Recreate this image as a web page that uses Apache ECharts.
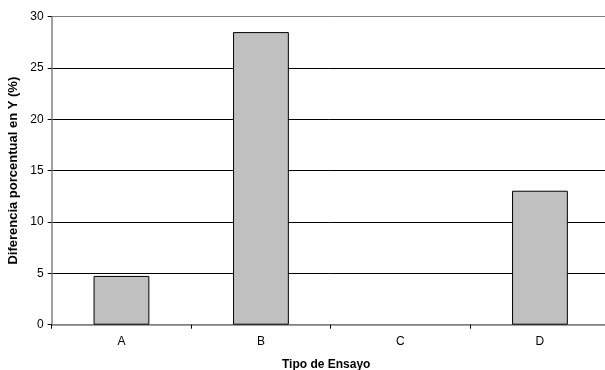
<!DOCTYPE html>
<html><head><meta charset="utf-8">
<script src="https://cdn.jsdelivr.net/npm/echarts@6/dist/echarts.min.js"></script>
<style>html,body{margin:0;padding:0;background:#fff}#c{width:605px;height:370px}</style>
</head><body><div id="c"></div>
<script>
const categories = ['A', 'B', 'C', 'D'];
const values = [4.75, 28.5, 0, 13.05];
const yTicks = { min: 0, max: 30, interval: 5 };

const chart = echarts.init(document.getElementById('c'), null, { renderer: 'canvas' });
chart.setOption({
  animation: false,
  backgroundColor: '#fff',
  grid: { left: 51.7, width: 558, top: 16.7, height: 308, containLabel: false, outerBoundsMode: 'none' },
  xAxis: {
    type: 'category',
    data: categories,
    name: 'Tipo de Ensayo',
    nameLocation: 'middle',
    nameGap: 34,
    nameTextStyle: { fontFamily: 'Liberation Sans', fontWeight: 'bold', fontSize: 12, color: '#000', padding: [0, 9, 0, 0] },
    axisLine: { lineStyle: { color: '#808080', width: 1.5 } },
    axisTick: { show: true, alignWithLabel: false, length: 4, lineStyle: { color: '#000' } },
    axisLabel: { fontFamily: 'Liberation Sans', fontSize: 12, color: '#000', margin: 11 }
  },
  yAxis: {
    type: 'value',
    min: yTicks.min, max: yTicks.max, interval: yTicks.interval,
    name: 'Diferencia porcentual en Y (%)',
    nameLocation: 'middle',
    nameGap: 32,
    nameTextStyle: { fontFamily: 'Liberation Sans', fontWeight: 'bold', fontSize: 13, color: '#000' },
    axisLine: { show: true, lineStyle: { color: '#808080', width: 1.5 } },
    axisTick: { show: true, length: 4, lineStyle: { color: '#000' } },
    axisLabel: { fontFamily: 'Liberation Sans', fontSize: 12, color: '#000', margin: 8 },
    splitLine: { show: true, lineStyle: { color: ['#808080', '#000', '#000', '#000', '#000', '#000', '#808080'], width: 1 } }
  },
  series: [{
    type: 'bar',
    data: values.map(v => v === 0 ? { value: v, itemStyle: { borderWidth: 0 } } : v),
    barWidth: '40%',
    itemStyle: { color: '#C0C0C0', borderColor: '#000', borderWidth: 1 }
  }]
});
</script></body></html>
